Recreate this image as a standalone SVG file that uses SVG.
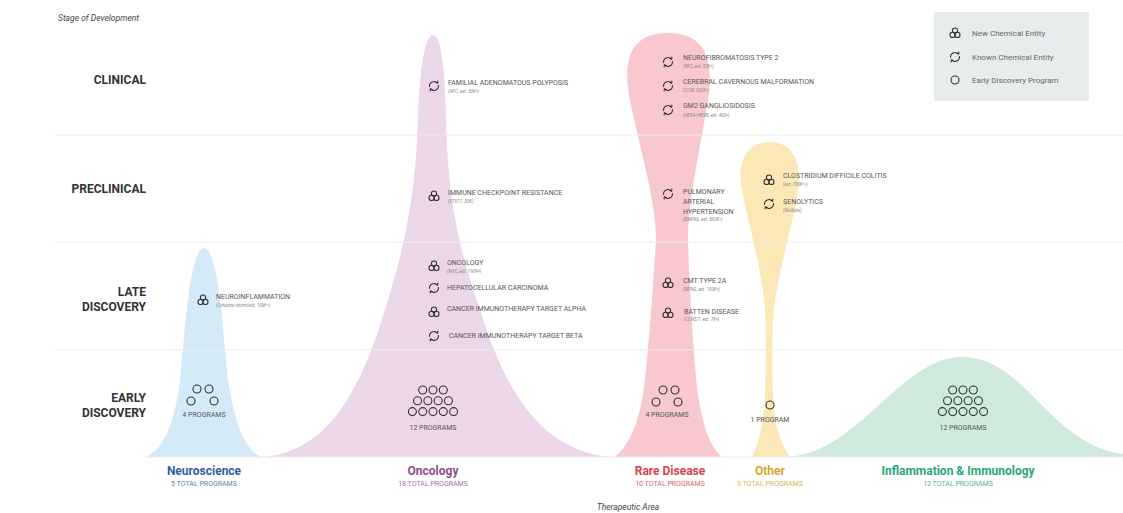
<svg xmlns="http://www.w3.org/2000/svg" xmlns:xlink="http://www.w3.org/1999/xlink" width="1123" height="513" viewBox="0 0 1123 513">
<style>
text{font-family:Roboto,"Liberation Sans",sans-serif}
.row{font-size:12px;font-weight:bold;fill:#333;text-anchor:end}
.ax{font-size:8.5px;font-style:italic;fill:#444}
.lb{font-size:7px;fill:#555}
.sb{font-size:4.5px;fill:#888;font-style:italic}
.pg{font-size:7px;fill:#555;text-anchor:middle}
.ta{font-size:12px;font-weight:bold;text-anchor:middle}
.tt{font-size:7px;text-anchor:middle}
.lg{font-size:8px;fill:#666}
.ic{fill:none;stroke:#333;stroke-width:1.1}
.grid{stroke:#ececec;stroke-width:1}
</style>
<defs>
<g id="nce" class="ic"><circle cx="0" cy="-2.4" r="2.6"/><circle cx="-2.4" cy="1.9" r="2.6"/><circle cx="2.4" cy="1.9" r="2.6"/></g>
<g id="kce" class="ic"><path d="M-4.4,0.8 A4.5,4.5 0 0 1 3.4,-2.9"/><path d="M1.3,-4 L3.6,-2.8 L3.9,-5.4"/><path d="M4.4,-0.8 A4.5,4.5 0 0 1 -3.4,2.9"/><path d="M-1.3,4 L-3.6,2.8 L-3.9,5.4"/></g>
<circle id="edp" class="ic" r="4"/>
<g id="twelve"><use xlink:href="#edp" x="-10.3" y="0"/><use xlink:href="#edp" x="0" y="0"/><use xlink:href="#edp" x="10.3" y="0"/><use xlink:href="#edp" x="-15.45" y="10.8"/><use xlink:href="#edp" x="-5.15" y="10.8"/><use xlink:href="#edp" x="5.15" y="10.8"/><use xlink:href="#edp" x="15.45" y="10.8"/><use xlink:href="#edp" x="-20.6" y="21.6"/><use xlink:href="#edp" x="-10.3" y="21.6"/><use xlink:href="#edp" x="0" y="21.6"/><use xlink:href="#edp" x="10.3" y="21.6"/><use xlink:href="#edp" x="20.6" y="21.6"/></g>
</defs>
<rect width="1123" height="513" fill="#fff"/>

<g id="shapes">
<path id="shape-neuro" fill="#d5eaf8" d="M145,457 C165,450 175,420 180,380 C186,320 190,250 204,248 C218,250 222,320 228,380 C234,420 244,450 262,457 Z"/>
<path id="shape-onco" fill="#ebd6ea" d="M264,457 C330,450 360,390 385,310 C405,245 415,200 418,120 C420,60 426,35 433,35 C440,35 445,60 446,120 C448,200 458,245 480,310 C505,390 540,450 609,457 Z"/>
<path id="shape-rare" fill="#f9c8cf" d="M614,457 C628,448 638,425 643,395 C648,360 652,300 656,240 C656,200 640,150 630,100 C622,60 630,33 668,33 C706,33 714,60 708,100 C700,150 688,200 688,240 C690,300 694,360 698,395 C703,425 710,448 722,457 Z"/>
<path id="shape-other" fill="#fce8b6" d="M752,457 C760,440 764,420 765,395 C766,360 766,330 765,310 C762,270 750,230 742,190 C736,160 748,142 770,142 C792,142 802,160 798,190 C792,230 778,270 774,310 C772,330 772,360 773,395 C774,420 778,440 790,457 Z"/>
<path id="shape-infl" fill="#cfeadd" d="M788,457 C860,452 900,357 963,357 C1025,357 1050,445 1123,454 L1123,457 Z"/>
</g>

<g id="grid">
<line class="grid" x1="55" y1="135" x2="1123" y2="135"/>
<line class="grid" x1="55" y1="242" x2="1123" y2="242"/>
<line class="grid" x1="55" y1="350" x2="1123" y2="350"/>
<line class="grid" x1="145" y1="457" x2="1123" y2="457"/>
</g>

<g id="axis-labels">
<text class="ax" x="58" y="21">Stage of Development</text>
<text class="row" x="146" y="84">CLINICAL</text>
<text class="row" x="146" y="193">PRECLINICAL</text>
<text class="row" x="146" y="296">LATE</text>
<text class="row" x="146" y="311">DISCOVERY</text>
<text class="row" x="146" y="402">EARLY</text>
<text class="row" x="146" y="417">DISCOVERY</text>
<text class="ax" x="628" y="510" text-anchor="middle">Therapeutic Area</text>
</g>

<g id="connectors"></g>

<g id="node-neuroinflammation"><use xlink:href="#nce" x="203" y="300"/><text class="lb" x="216" y="299">NEUROINFLAMMATION</text><text class="sb" x="216" y="307">(Cytokine storm/est. 10M¹¹)</text></g>
<g id="node-neuro-early"><use xlink:href="#edp" x="197" y="389"/><use xlink:href="#edp" x="209" y="389"/><use xlink:href="#edp" x="191" y="401"/><use xlink:href="#edp" x="214" y="401"/><text class="pg" x="204" y="417">4 PROGRAMS</text></g>

<g id="node-fap"><use xlink:href="#kce" x="434" y="86"/><text class="lb" x="448" y="85">FAMILIAL ADENOMATOUS POLYPOSIS</text><text class="sb" x="448" y="93">(APC, est. 50K⁶)</text></g>
<g id="node-icr"><use xlink:href="#nce" x="434" y="196"/><text class="lb" x="448" y="195">IMMUNE CHECKPOINT RESISTANCE</text><text class="sb" x="448" y="203">(STK11, 30K)</text></g>
<g id="node-oncology"><use xlink:href="#nce" x="434" y="266"/><text class="lb" x="447" y="265">ONCOLOGY</text><text class="sb" x="447" y="273">(MYC, est. 190K⁴)</text></g>
<g id="node-hcc"><use xlink:href="#kce" x="434" y="288"/><text class="lb" x="447" y="290">HEPATOCELLULAR CARCINOMA</text></g>
<g id="node-cita"><use xlink:href="#nce" x="434" y="312"/><text class="lb" x="447" y="311">CANCER IMMUNOTHERAPY TARGET ALPHA</text></g>
<g id="node-citb"><use xlink:href="#kce" x="434" y="336"/><text class="lb" x="449" y="338">CANCER IMMUNOTHERAPY TARGET BETA</text></g>
<g id="node-onco-early"><use xlink:href="#twelve" x="433" y="390"/><text class="pg" x="433" y="430">12 PROGRAMS</text></g>

<g id="node-nf2"><use xlink:href="#kce" x="668" y="62"/><text class="lb" x="683" y="60">NEUROFIBROMATOSIS TYPE 2</text><text class="sb" x="683" y="68">(NF2, est. 33K⁵)</text></g>
<g id="node-ccm"><use xlink:href="#kce" x="668" y="86"/><text class="lb" x="683" y="84">CEREBRAL CAVERNOUS MALFORMATION</text><text class="sb" x="683" y="92">(CCM, 360K⁵)</text></g>
<g id="node-gm2"><use xlink:href="#kce" x="668" y="110"/><text class="lb" x="683" y="108">GM2 GANGLIOSIDOSIS</text><text class="sb" x="683" y="117">(HEXA/HEXB, est. 400³)</text></g>
<g id="node-pah"><use xlink:href="#kce" x="668" y="194"/><text class="lb" x="683" y="194">PULMONARY</text><text class="lb" x="683" y="204">ARTERIAL</text><text class="lb" x="683" y="214">HYPERTENSION</text><text class="sb" x="683" y="221">(BMPR2, est. 500K⁷)</text></g>
<g id="node-cmt"><use xlink:href="#nce" x="668" y="283"/><text class="lb" x="683" y="283">CMT TYPE 2A</text><text class="sb" x="683" y="291">(MFN2, est. 100K⁸)</text></g>
<g id="node-batten"><use xlink:href="#nce" x="668" y="313"/><text class="lb" x="684" y="314">BATTEN DISEASE</text><text class="sb" x="684" y="321">(CLN3/7, est. 7K⁹)</text></g>
<g id="node-rare-early"><use xlink:href="#edp" x="663" y="390"/><use xlink:href="#edp" x="675" y="390"/><use xlink:href="#edp" x="656" y="402"/><use xlink:href="#edp" x="678" y="402"/><text class="pg" x="667" y="417">4 PROGRAMS</text></g>

<g id="node-cdc"><use xlink:href="#nce" x="769" y="180"/><text class="lb" x="783" y="178">CLOSTRIDIUM DIFFICILE COLITIS</text><text class="sb" x="783" y="186">(est. 700K¹⁰)</text></g>
<g id="node-senolytics"><use xlink:href="#kce" x="769" y="204"/><text class="lb" x="783" y="204">SENOLYTICS</text><text class="sb" x="783" y="212">(Multiple)</text></g>
<g id="node-other-early"><use xlink:href="#edp" x="770" y="405"/><text class="pg" x="770" y="422">1 PROGRAM</text></g>

<g id="node-infl-early"><use xlink:href="#twelve" x="963" y="390"/><text class="pg" x="963" y="430">12 PROGRAMS</text></g>

<g id="areas">
<text class="ta" x="204" y="475" fill="#2f5e9e">Neuroscience</text><text class="tt" x="204" y="486" fill="#5a7fb5">5 TOTAL PROGRAMS</text>
<text class="ta" x="433" y="475" fill="#8f4c91">Oncology</text><text class="tt" x="433" y="486" fill="#a371a5">18 TOTAL PROGRAMS</text>
<text class="ta" x="670" y="475" fill="#d8414f">Rare Disease</text><text class="tt" x="670" y="486" fill="#d9626d">10 TOTAL PROGRAMS</text>
<text class="ta" x="770" y="475" fill="#d4a62a">Other</text><text class="tt" x="770" y="486" fill="#d8b24e">3 TOTAL PROGRAMS</text>
<text class="ta" x="958" y="475" fill="#2ba57a">Inflammation &amp; Immunology</text><text class="tt" x="958" y="486" fill="#4fb48f">12 TOTAL PROGRAMS</text>
</g>

<g id="legend">
<rect x="934" y="12" width="155" height="89" fill="#e8ecec"/>
<use xlink:href="#nce" x="955" y="33"/><text class="lg" x="972" y="36">New Chemical Entity</text>
<use xlink:href="#kce" x="955" y="57"/><text class="lg" x="972" y="60">Known Chemical Entity</text>
<use xlink:href="#edp" x="955" y="80"/><text class="lg" x="972" y="83">Early Discovery Program</text>
</g>
</svg>
